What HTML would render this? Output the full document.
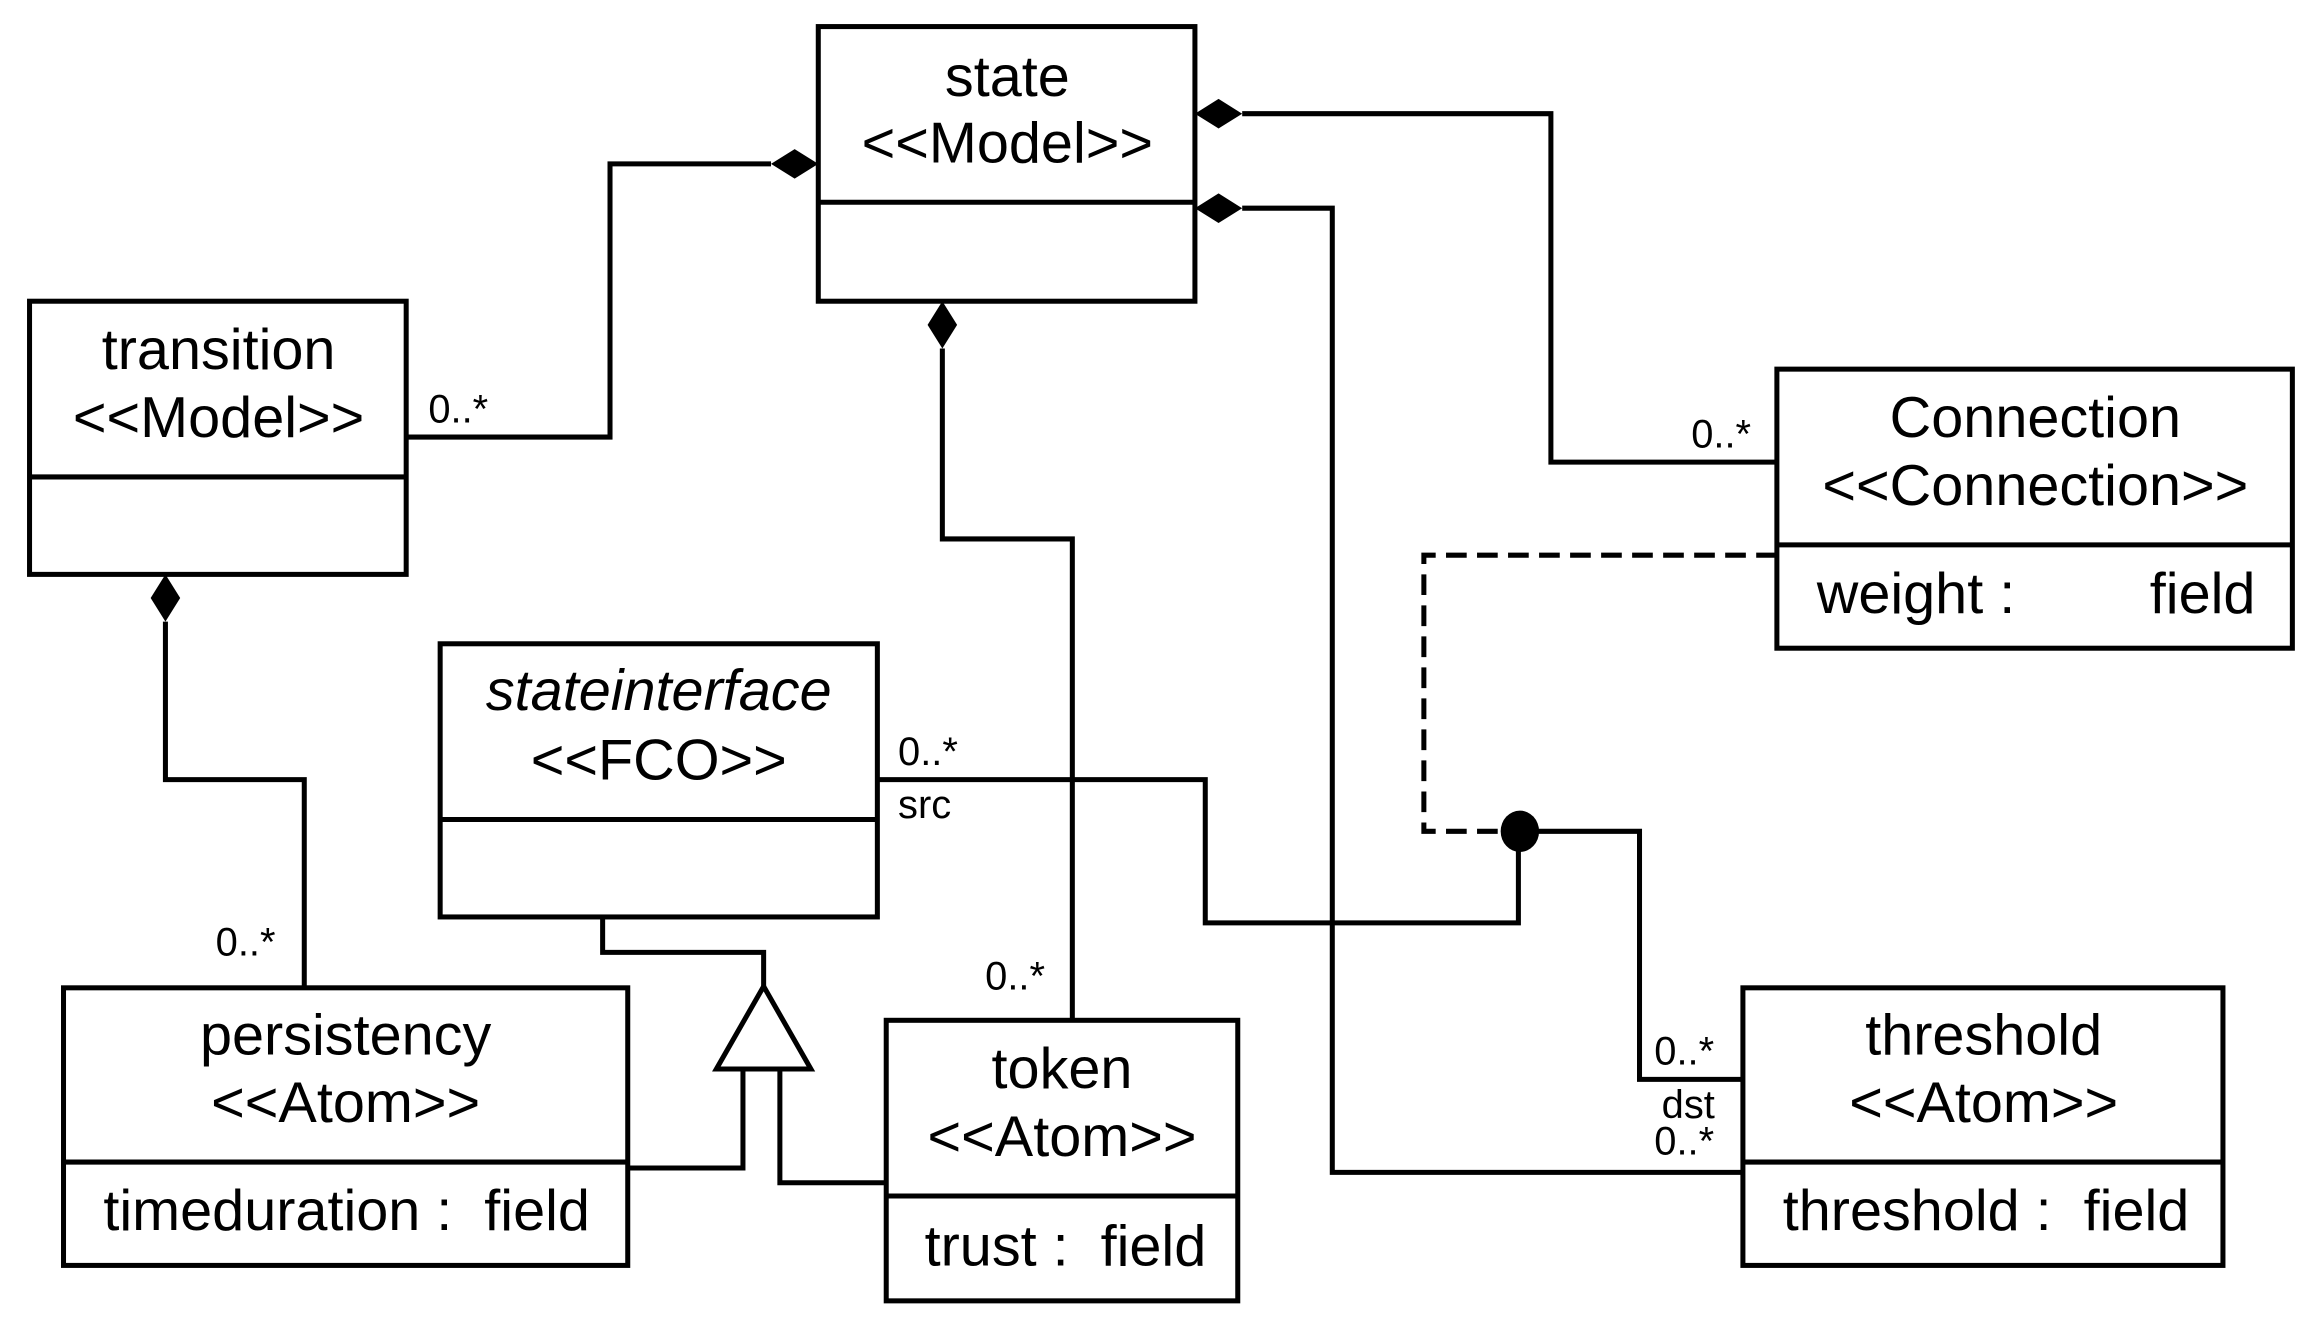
<!DOCTYPE html>
<html><head><meta charset="utf-8"><style>
html,body{margin:0;padding:0;background:#fff;}
svg{display:block;}
text{font-family:"Liberation Sans",Arial,sans-serif;fill:#000;}
.t{font-size:39px;text-anchor:middle;}
.a{font-size:39px;}
.s{font-size:27px;}
</style></head><body>
<svg width="2316" height="1323" viewBox="0 0 1568 896" preserveAspectRatio="none" xmlns="http://www.w3.org/2000/svg">
<g fill="none" stroke="#000" stroke-width="3.4">
<rect x="554" y="18" width="255" height="186"/><line x1="554" y1="137" x2="809" y2="137"/>
<rect x="20" y="204" width="255" height="185"/><line x1="20" y1="323" x2="275" y2="323"/>
<rect x="1203" y="250" width="349" height="189"/><line x1="1203" y1="369" x2="1552" y2="369"/>
<rect x="298" y="436" width="296" height="185"/><line x1="298" y1="555" x2="594" y2="555"/>
<rect x="43" y="669" width="382" height="188"/><line x1="43" y1="787" x2="425" y2="787"/>
<rect x="600" y="691" width="238" height="190"/><line x1="600" y1="810" x2="838" y2="810"/>
<rect x="1180" y="669" width="325" height="188"/><line x1="1180" y1="787" x2="1505" y2="787"/>
<polyline points="275,296 413,296 413,111 522,111"/>
<polyline points="841,77 1050,77 1050,313 1203,313"/>
<polyline points="841,141 902,141 902,794 1180,794"/>
<polyline points="638,236 638,365 726,365 726,691"/>
<polyline points="112,421 112,528 206,528 206,669"/>
<polyline points="594,528 816,528 816,625 1028,625 1028,563 1110,563 1110,731 1180,731"/>
<polyline points="1203,376 964,376 964,563 1028,563" stroke-dasharray="14,7"/>
<polyline points="408,621 408,645 517,645 517,668"/>
<polyline points="425,791 503,791 503,724"/>
<polyline points="600,801 528,801 528,724"/>
<polygon points="517,668 485,724 549,724" fill="#fff"/>
</g>
<g fill="#000">
<polygon points="554,111 538,101 522,111 538,121"/>
<polygon points="809,77 825,67 841,77 825,87"/>
<polygon points="809,141 825,131 841,141 825,151"/>
<polygon points="638,204 628,220 638,236 648,220"/>
<polygon points="112,389 102,405 112,421 122,405"/>
<ellipse cx="1029" cy="563" rx="13" ry="14"/>
</g>
<text class="t" x="682" y="65">state</text><text class="t" x="682" y="110">&lt;&lt;Model&gt;&gt;</text>
<text class="t" x="148" y="250">transition</text><text class="t" x="148" y="296">&lt;&lt;Model&gt;&gt;</text>
<text class="t" x="1378" y="296">Connection</text><text class="t" x="1378" y="342">&lt;&lt;Connection&gt;&gt;</text>
<text class="a" x="1230" y="415">weight :</text><text class="a" x="1527" y="415" text-anchor="end">field</text>
<text class="t" x="446" y="481" font-style="italic">stateinterface</text><text class="t" x="446" y="528">&lt;&lt;FCO&gt;&gt;</text>
<text class="t" x="234" y="714">persistency</text><text class="t" x="234" y="760">&lt;&lt;Atom&gt;&gt;</text>
<text class="a" x="70" y="833">timeduration :&#160;&#160;field</text>
<text class="t" x="719" y="737">token</text><text class="t" x="719" y="783">&lt;&lt;Atom&gt;&gt;</text>
<text class="a" x="626" y="857">trust :&#160;&#160;field</text>
<text class="t" x="1343" y="714">threshold</text><text class="t" x="1343" y="760">&lt;&lt;Atom&gt;&gt;</text>
<text class="a" x="1207" y="833">threshold :&#160;&#160;field</text>
<text class="s" x="290" y="286">0..*</text>
<text class="s" x="1145" y="303">0..*</text>
<text class="s" x="608" y="518">0..*</text>
<text class="s" x="608" y="554">src</text>
<text class="s" x="146" y="647">0..*</text>
<text class="s" x="667" y="670">0..*</text>
<text class="s" x="1120" y="721">0..*</text>
<text class="s" x="1125" y="757">dst</text>
<text class="s" x="1120" y="782">0..*</text>
</svg>
</body></html>
